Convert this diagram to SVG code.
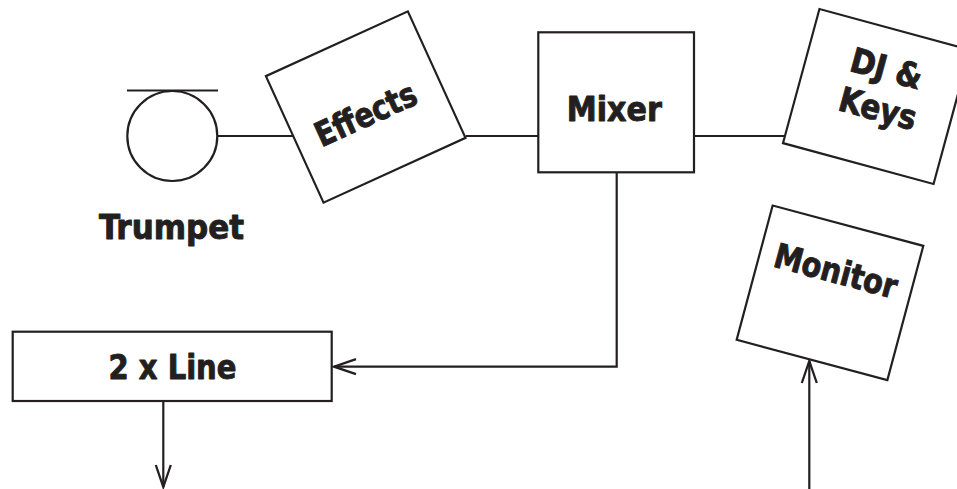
<svg xmlns="http://www.w3.org/2000/svg" width="957" height="489" viewBox="0 0 957 489">
<defs>
<style>
.box{fill:#fff;stroke:#231f20;stroke-width:2.2}
.ln{fill:none;stroke:#231f20;stroke-width:2.2}
.t{font-family:"DejaVu Sans Condensed","DejaVu Sans",sans-serif;font-stretch:condensed;font-weight:700;font-size:34px;fill:#231f20;stroke:#231f20;stroke-width:0.9;stroke-linejoin:round;text-anchor:middle}
</style>
<marker id="arr" markerUnits="userSpaceOnUse" markerWidth="30" markerHeight="20" viewBox="-25 -10 30 20" refX="0" refY="0" orient="auto">
<path d="M-22,-7.5 L0,0 L-22,7.5" fill="none" stroke="#231f20" stroke-width="2.3"/>
</marker>
</defs>
<rect width="957" height="489" fill="#fff"/>
<g id="connectors">
<line class="ln" x1="217" y1="136" x2="294" y2="136"/>
<line class="ln" x1="465.7" y1="136" x2="538" y2="136"/>
<line class="ln" x1="694" y1="136" x2="785.5" y2="136"/>
<polyline class="ln" points="616.7,172 616.7,366.7 334,366.7" marker-end="url(#arr)"/>
<line class="ln" x1="163.3" y1="401" x2="163.3" y2="487" marker-end="url(#arr)"/>
<line class="ln" x1="809.3" y1="489" x2="809.3" y2="361" marker-end="url(#arr)"/>
</g>
<g id="trumpet">
<circle class="box" cx="172.3" cy="136" r="45"/>
<line class="ln" x1="127" y1="90.5" x2="218" y2="90.5"/>
<text class="t" x="171.5" y="239" textLength="145" lengthAdjust="spacingAndGlyphs">Trumpet</text>
</g>
<g id="effects" transform="translate(365.7,107) rotate(-24.5)">
<rect class="box" x="-78" y="-69.5" width="156" height="139"/>
<text class="t" x="-3" y="18.5" textLength="108" lengthAdjust="spacingAndGlyphs">Effects</text>
</g>
<g id="mixer">
<rect class="box" x="538.3" y="32.3" width="155.7" height="140"/>
<text class="t" x="614.3" y="120.7" textLength="95" lengthAdjust="spacingAndGlyphs">Mixer</text>
</g>
<g id="djkeys" transform="translate(876.5,96.5) rotate(15.2)">
<rect class="box" x="-78" y="-69.5" width="156" height="139"/>
<text class="t" x="2.3" y="-17.7" textLength="73" lengthAdjust="spacingAndGlyphs">DJ &amp;</text>
<text class="t" x="4.6" y="23.1" textLength="79" lengthAdjust="spacingAndGlyphs">Keys</text>
</g>
<g id="monitor" transform="translate(830,292.8) rotate(15)">
<rect class="box" x="-78" y="-69.5" width="156" height="139"/>
<text class="t" x="0" y="-10.6" textLength="126" lengthAdjust="spacingAndGlyphs">Monitor</text>
</g>
<g id="line2">
<rect class="box" x="12.7" y="331.7" width="319" height="69.3"/>
<text class="t" x="172.5" y="379" textLength="128" lengthAdjust="spacingAndGlyphs">2 x Line</text>
</g>
</svg>
